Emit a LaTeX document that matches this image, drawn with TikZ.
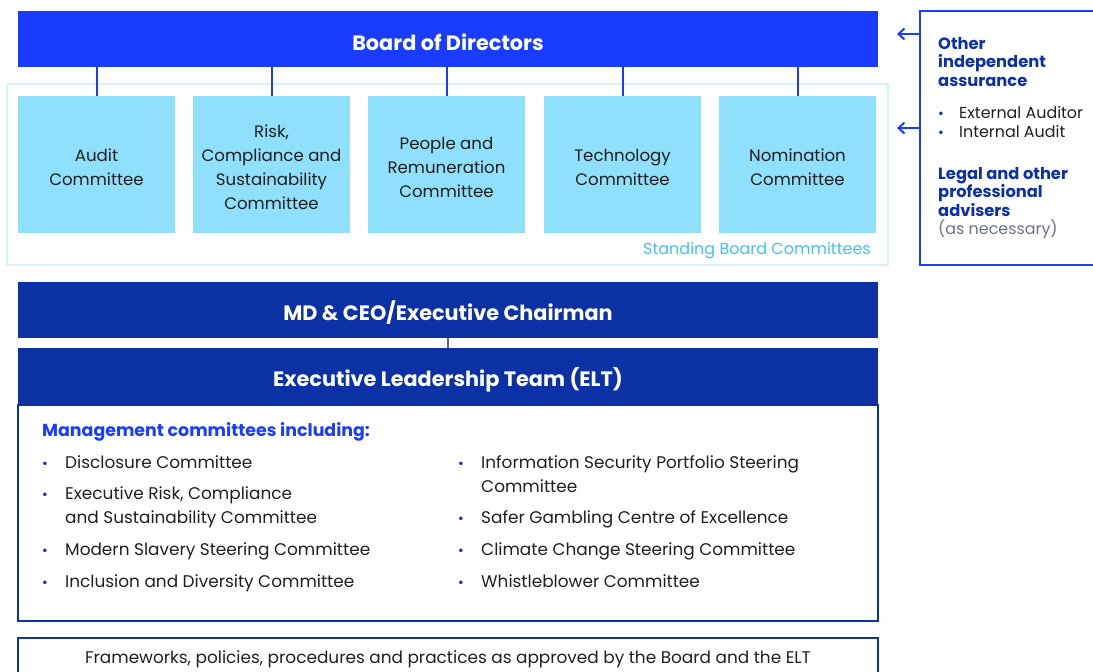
\documentclass[tikz,border=0pt]{standalone}
\usepackage{fontspec}
\setmainfont{Poppins}
\usetikzlibrary{arrows.meta}
\definecolor{boardblue}{HTML}{1A3CFF}
\definecolor{navy}{HTML}{0B31A5}
\definecolor{cyanbox}{HTML}{8FE0FC}
\definecolor{cyanline}{HTML}{D5F2FC}
\definecolor{cyantext}{HTML}{3EC1F3}
\definecolor{inktext}{HTML}{1F1F1F}
\definecolor{greytext}{HTML}{6B7280}
\definecolor{linkgrey}{HTML}{5A6B7A}
\begin{document}
\begin{tikzpicture}[x=1pt,y=-1pt]
	\tikzset{banner/.style = {minimum width=860pt,minimum height=56pt,inner sep=0pt}}
	\tikzset{bannertext/.style = {yshift=-3pt,inner sep=0pt,text=white,font=\fontsize{20.8}{24}\selectfont\bfseries}}
	\tikzset{committee/.style = {fill=cyanbox,minimum width=157pt,minimum height=137pt,inner sep=0pt}}
	\tikzset{committeetext/.style = {yshift=-3pt,inner sep=0pt,align=center,text=inktext,font=\fontsize{16.6}{24}\selectfont}}
	\tikzset{link/.style = {draw=boardblue,line width=2pt}}
	\tikzset{listitem/.style = {anchor=base west,inner sep=0pt,align=left,text=inktext,font=\fontsize{16.9}{24}\selectfont}}
	\tikzset{dot/.style = {anchor=base,inner sep=0pt,text=navy,font=\fontsize{14}{24}\selectfont}}
	\tikzset{sidehead/.style = {anchor=base west,inner sep=0pt,align=left,text=navy,font=\fontsize{16.3}{18.5}\selectfont\bfseries}}
	\tikzset{sideitem/.style = {anchor=base west,inner sep=0pt,align=left,text=inktext,font=\fontsize{15.9}{18.5}\selectfont}}
	\tikzset{back/.style = {-{Straight Barb[length=6pt,width=11pt]},draw=boardblue,line width=2pt}}
	\useasboundingbox (0,0) rectangle (1093,672);
	\clip (0,0) rectangle (1093,672);
	% board and standing committees
	\node[banner,fill=boardblue] (board) at (448,39) {};
	\node[bannertext] (boardtext) at (board.center) {Board of Directors};
	\node[draw=cyanline,line width=2pt,minimum width=881pt,minimum height=181pt,inner sep=0pt] (standing) at (447.5,174.5) {};
	\node[committee] (audit) at (96.5,164.5) {};
	\node[committee] (risk) at (271.5,164.5) {};
	\node[committee] (people) at (446.5,164.5) {};
	\node[committee] (tech) at (622.5,164.5) {};
	\node[committee] (nomination) at (797.5,164.5) {};
	\node[committeetext] (audittext) at (audit.center) {Audit\\Committee};
	\node[committeetext] (risktext) at (risk.center) {Risk,\\Compliance and\\Sustainability\\Committee};
	\node[committeetext] (peopletext) at (people.center) {People and\\Remuneration\\Committee};
	\node[committeetext] (techtext) at (tech.center) {Technology\\Committee};
	\node[committeetext] (nominationtext) at (nomination.center) {Nomination\\Committee};
	\node[anchor=base east,inner sep=0pt,text=cyantext,font=\fontsize{16}{18}\selectfont] (standlabel) at (871,254) {Standing Board Committees};
	\path[link] (board.south -| audit.north) -- (audit.north);
	\path[link] (board.south -| risk.north) -- (risk.north);
	\path[link] (board.south -| people.north) -- (people.north);
	\path[link] (board.south -| tech.north) -- (tech.north);
	\path[link] (board.south -| nomination.north) -- (nomination.north);
	% executive
	\node[banner,fill=navy] (ceo) at (448,310) {};
	\node[bannertext] (ceotext) at (ceo.center) {MD \& CEO/Executive Chairman};
	\node[banner,fill=navy,minimum height=57pt] (elt) at (448,376.5) {};
	\node[bannertext] (elttext) at (elt.center) {Executive Leadership Team (ELT)};
	\path[draw=linkgrey,line width=1.5pt] (ceo.south) -- (elt.north);
	\node[draw=navy,line width=1.5pt,minimum width=860pt,minimum height=216pt,inner sep=0pt] (mgmt) at (448,513) {};
	\node[anchor=base west,inner sep=0pt,text=boardblue,font=\fontsize{17.4}{24}\selectfont\bfseries] (mgmthead) at (42,436) {Management committees including:};
	\node[dot] (b1) at (45,468) {\textbullet};
	\node[listitem] (m1) at (65,468) {Disclosure Committee};
	\node[dot] (b2) at (45,499) {\textbullet};
	\node[listitem] (m2) at (65,523) {Executive Risk, Compliance\\and Sustainability Committee};
	\node[dot] (b3) at (45,555) {\textbullet};
	\node[listitem] (m3) at (65,555) {Modern Slavery Steering Committee};
	\node[dot] (b4) at (45,587) {\textbullet};
	\node[listitem] (m4) at (65,587) {Inclusion and Diversity Committee};
	\node[dot] (b5) at (461,468) {\textbullet};
	\node[listitem] (m5) at (481,492) {Information Security Portfolio Steering\\Committee};
	\node[dot] (b6) at (461,523) {\textbullet};
	\node[listitem] (m6) at (481,523) {Safer Gambling Centre of Excellence};
	\node[dot] (b7) at (461,555) {\textbullet};
	\node[listitem] (m7) at (481,555) {Climate Change Steering Committee};
	\node[dot] (b8) at (461,587) {\textbullet};
	\node[listitem] (m8) at (481,587) {Whistleblower Committee};
	% frameworks
	\node[draw=navy,line width=1.5pt,minimum width=860pt,minimum height=60pt,inner sep=0pt] (frame) at (448,668) {};
	\node[inner sep=0pt,text=inktext,font=\fontsize{16.9}{20}\selectfont] (frametext) at (448,659) {Frameworks, policies, procedures and practices as approved by the Board and the ELT};
	% side panel
	\node[draw=boardblue,line width=2pt,minimum width=190pt,minimum height=254pt,inner sep=0pt] (side) at (1015,138) {};
	\node[sidehead] (oia) at (938,86) {Other\\independent\\assurance};
	\node[dot] (s1) at (941,118) {\textbullet};
	\node[sideitem] (ext) at (959,118) {External Auditor};
	\node[dot] (s2) at (941,137) {\textbullet};
	\node[sideitem] (int) at (959,137) {Internal Audit};
	\node[sidehead] (legal) at (938,216) {Legal and other\\professional\\advisers};
	\node[sideitem,text=greytext] (asneed) at (938,234) {(as necessary)};
	\coordinate (tip1) at (897,34);
	\coordinate (tip2) at (897,128);
	\draw[back] (side.west |- tip1) -- (tip1);
	\draw[back] (side.west |- tip2) -- (tip2);
\end{tikzpicture}
\end{document}
